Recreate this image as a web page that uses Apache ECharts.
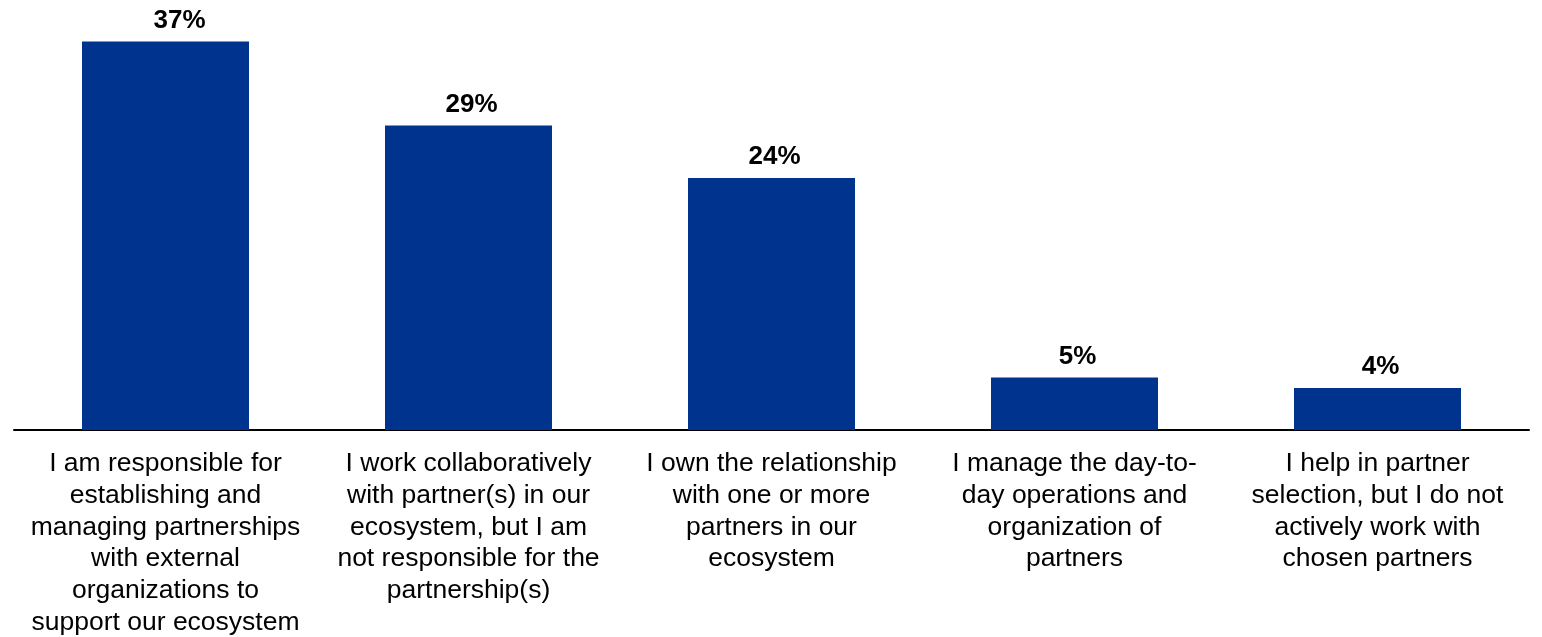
<!DOCTYPE html>
<html>
<head>
<meta charset="utf-8">
<script src="https://cdn.jsdelivr.net/npm/echarts@6/dist/echarts.min.js"></script>
<style>
  html, body { margin: 0; padding: 0; background: #fff; }
  #chart { width: 1542px; height: 637px; }
</style>
</head>
<body>
<div id="chart"></div>
<script>
// Role of respondents in partnerships (share of respondents, %)
const categories = [
  "I am responsible for\nestablishing and\nmanaging partnerships\nwith external\norganizations to\nsupport our ecosystem",
  "I work collaboratively\nwith partner(s) in our\necosystem, but I am\nnot responsible for the\npartnership(s)",
  "I own the relationship\nwith one or more\npartners in our\necosystem",
  "I manage the day-to-\nday operations and\norganization of\npartners",
  "I help in partner\nselection, but I do not\nactively work with\nchosen partners"
];
const shares = [37, 29, 24, 5, 4];

// Value labels sit slightly right of the bar centre; the first one more so.
const barData = shares.map((v, i) => ({
  value: v,
  label: { offset: [i === 0 ? 14 : 3, 0] }
}));

const chart = echarts.init(document.getElementById('chart'));
chart.setOption({
  animation: false,
  textStyle: { fontFamily: 'Liberation Sans, Arial, sans-serif' },
  grid: {
    left: 14, right: 13, top: 10, bottom: 207,
    containLabel: false,
    outerBoundsMode: 'none'
  },
  xAxis: {
    type: 'category',
    data: categories,
    axisLine: { lineStyle: { color: '#000', width: 2 } },
    axisTick: { show: false },
    axisLabel: {
      interval: 0,
      color: '#000',
      fontSize: 26.5,
      lineHeight: 31.7,
      margin: 18,
      align: 'center'
    }
  },
  yAxis: {
    type: 'value',
    min: 0,
    max: 40,
    show: false,
    splitLine: { show: false }
  },
  series: [{
    type: 'bar',
    data: barData,
    barWidth: 167,
    itemStyle: { color: '#00338D' },
    label: {
      show: true,
      position: 'top',
      distance: 8,
      formatter: '{c}%',
      color: '#000',
      fontSize: 26,
      fontWeight: 'bold'
    }
  }]
});
</script>
</body>
</html>
